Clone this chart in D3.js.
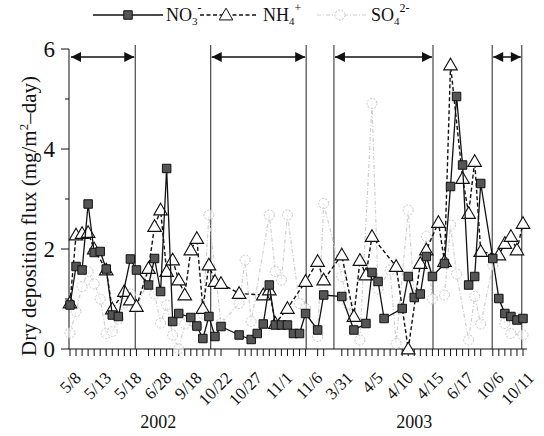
<!DOCTYPE html>
<html>
<head>
<meta charset="utf-8">
<script src="https://cdn.jsdelivr.net/npm/d3@7"></script>
<style>
  body { margin: 0; background: #fff; }
  text { font-family: "Liberation Serif", "Times New Roman", serif; fill: #111; }
</style>
</head>
<body>
<svg id="chart" width="544" height="436"></svg>
<script>
// sample slots along the x axis (one slot per sampling day, gaps left empty)
const slotMax = 75;
const dateLabels = ["5/8", "5/13", "5/18", "6/28", "9/18", "10/22", "10/27", "11/1", "11/6",
                    "3/31", "4/5", "4/10", "4/15", "6/17", "10/6", "10/11"];
const labelSlots = [0, 5, 10, 15, 20, 25, 30, 35, 40, 45, 50, 55, 60, 65, 70, 75];
const years = ["2002", "2003"];
const yearSlots = [14.6, 57];
const campaignEdges = [10.8, 23.3, 39.1, 43.7, 60.1, 69.9, 74.8];
const campaigns = [[0, 10.8], [23.3, 39.1], [43.7, 60.1], [69.9, 74.8]];
const yTicks = [0, 2, 4, 6];
const yMinor = [1, 3, 5];

// [slot, flux]
const no3 = [
  [0, 0.88], [1, 1.65], [2, 1.58], [3, 2.9], [4, 1.93], [5, 1.95], [6, 1.6], [7, 0.68], [8, 0.65], [10, 1.8], [11, 1.58],
  [13, 1.28], [14, 1.81], [15, 1.15], [16, 3.61], [17, 0.55], [18, 0.71], [20, 0.63], [21, 0.46], [22, 0.21],
  [23, 0.65], [24, 0.25], [25, 0.45], [28, 0.28], [30, 0.19], [31, 0.31], [32, 0.5], [33, 1.28], [34, 0.48],
  [35, 0.48], [36, 0.48], [37, 0.31], [38, 0.31], [39, 0.71], [41, 0.38], [42, 1.08],
  [45, 1.05], [47, 0.38], [49, 0.51], [50, 1.53], [51, 1.35], [52, 0.61], [55, 0.81], [56, 1.45], [57, 1.03],
  [58, 1.1], [59, 1.85], [60, 1.45],
  [62, 1.71], [63, 3.25], [64, 5.05], [65, 3.68], [66, 1.28], [67, 1.45], [68, 3.31], [70, 1.81],
  [71, 1.01], [72, 0.71], [73, 0.65], [74, 0.58], [75, 0.61]
];
const nh4 = [
  [0, 0.92], [1, 2.28], [2, 2.31], [3, 2.33], [4, 2.0], [6, 1.58], [7, 0.8], [9, 1.15], [10, 0.98], [11, 0.85],
  [13, 1.61], [14, 2.45], [15, 2.78], [16, 1.55], [17, 1.78], [18, 1.38], [19, 1.08], [20, 1.98], [21, 2.21], [22, 0.81],
  [23, 1.68], [24, 1.35], [25, 1.31], [28, 1.11], [32, 1.08], [33, 1.18], [34, 0.51], [36, 0.81], [39, 1.35],
  [41, 1.75], [42, 1.38],
  [45, 1.88], [47, 0.65], [48, 1.77], [49, 1.48], [50, 2.25], [54, 1.65], [56, 0], [58, 1.71], [59, 1.98], [61, 2.53],
  [62, 1.75], [63, 5.68], [65, 3.41], [66, 2.71], [67, 3.75], [68, 1.95],
  [71, 1.88], [72, 2.11], [73, 2.25], [74, 1.98], [75, 2.51]
];
const so4 = [
  [0, 0.32], [1, 0.75], [2, 1.25], [3, 1.55], [4, 1.3], [5, 1.0], [6, 0.31], [7, 0.35], [8, 0.6], [9, 0.92], [10, 1.1], [11, 0.84],
  [13, 1.38], [14, 1.1], [15, 0.52], [16, 0.88], [17, 0.28], [18, 0.0], [19, 0.5], [21, 0.45], [22, 0.7],
  [23, 2.68], [25, 0.51], [28, 0.91], [29, 1.78], [30, 0.55], [33, 2.68], [34, 1.55], [35, 1.38], [36, 2.68],
  [38, 0.91], [39, 0.81], [41, 0.25], [42, 2.91],
  [45, 1.45], [46, 0.9], [48, 0.18], [50, 4.91], [51, 1.2], [53, 1.58], [54, 0.11], [56, 2.78], [57, 1.05],
  [59, 2.25], [60, 1.0],
  [62, 1.08], [63, 2.48], [64, 1.5], [66, 0.18], [67, 1.05], [68, 0.5], [70, 1.68],
  [72, 0.51], [73, 0.31], [75, 0.28]
];

const svg = d3.select("#chart");
const x = d3.scaleLinear().domain([0, slotMax]).range([70, 523]);
const y = d3.scaleLinear().domain([0, 6]).range([349, 49]);

// axes
const axisG = svg.append("g").attr("stroke", "#111").attr("fill", "none");
axisG.append("line").attr("x1", 69).attr("x2", 69).attr("y1", y(6)).attr("y2", y(0));
axisG.append("line").attr("x1", 69).attr("x2", 527).attr("y1", y(0)).attr("y2", y(0));
axisG.selectAll(".ymaj").data(yTicks).join("line")
  .attr("x1", 61).attr("x2", 69).attr("y1", d => y(d)).attr("y2", d => y(d));
axisG.selectAll(".ymin").data(yMinor).join("line")
  .attr("x1", 65).attr("x2", 69).attr("y1", d => y(d)).attr("y2", d => y(d));

svg.selectAll(".ylab").data(yTicks).join("text")
  .attr("x", 55).attr("y", d => y(d) + 8)
  .attr("text-anchor", "end").style("font-size", "23px").text(d => d);

const tickSlots = Array.from(new Set([...no3, ...nh4, ...so4].map(d => d[0]))).sort((a, b) => a - b);
axisG.selectAll(".xt").data(tickSlots).join("line")
  .attr("x1", d => x(d)).attr("x2", d => x(d)).attr("y1", y(0)).attr("y2", y(0) + 7);

svg.selectAll(".xlab").data(dateLabels).join("text")
  .attr("transform", (d, i) => `translate(${x(labelSlots[i]) + 12},${y(0) + 30}) rotate(-45)`)
  .attr("text-anchor", "end").style("font-size", "17px").text(d => d);

svg.selectAll(".year").data(years).join("text")
  .attr("x", (d, i) => x(yearSlots[i])).attr("y", 428)
  .attr("text-anchor", "middle").style("font-size", "18px").text(d => d);

// y axis title
const yt = svg.append("text")
  .attr("transform", `translate(36,${216}) rotate(-90)`)
  .attr("text-anchor", "middle").style("font-size", "21px");
yt.append("tspan").text("Dry deposition flux (mg/m");
yt.append("tspan").attr("dy", -8).style("font-size", "13px").text("2");
yt.append("tspan").attr("dy", 8).text("\u2013day)");

// campaign separators and arrows
svg.append("defs").append("marker")
  .attr("id", "head").attr("viewBox", "0 0 10 10").attr("refX", 10).attr("refY", 5)
  .attr("markerWidth", 12).attr("markerHeight", 10).attr("markerUnits", "userSpaceOnUse")
  .attr("orient", "auto-start-reverse")
  .append("path").attr("d", "M0,0L10,5L0,10Z").attr("fill", "#111");

svg.selectAll(".edge").data(campaignEdges).join("line")
  .attr("x1", d => x(d)).attr("x2", d => x(d)).attr("y1", 45).attr("y2", y(0))
  .attr("stroke", "#222").attr("stroke-width", 1);

svg.selectAll(".span").data(campaigns).join("line")
  .attr("x1", d => x(d[0]) + 1).attr("x2", d => x(d[1]) - 1).attr("y1", 57).attr("y2", 57)
  .attr("stroke", "#111").attr("stroke-width", 1.5)
  .attr("marker-start", "url(#head)").attr("marker-end", "url(#head)");

// series
const line = d3.line().x(d => x(d[0])).y(d => y(d[1]));
const sq = d3.symbol().type(d3.symbolSquare).size(72);
const tri = d3.symbol().type(d3.symbolTriangle).size(80);

const soG = svg.append("g");
soG.append("path").datum(so4).attr("d", line).attr("fill", "none")
  .attr("stroke", "#cfcfcf").attr("stroke-width", 1.2).attr("stroke-dasharray", "4,2,1,2");
soG.selectAll("circle").data(so4).join("circle")
  .attr("cx", d => x(d[0])).attr("cy", d => y(d[1])).attr("r", 5)
  .attr("fill", "#fff").attr("fill-opacity", 0.6)
  .attr("stroke", "#c4c4c4").attr("stroke-dasharray", "2,1.5");

const nhG = svg.append("g");
nhG.append("path").datum(nh4).attr("d", line).attr("fill", "none")
  .attr("stroke", "#111").attr("stroke-width", 1.4).attr("stroke-dasharray", "4,2.5");
nhG.selectAll("path.m").data(nh4).join("path").attr("class", "m")
  .attr("d", tri).attr("transform", d => `translate(${x(d[0])},${y(d[1]) + 1})`)
  .attr("fill", "#fff").attr("stroke", "#111").attr("stroke-width", 1.1);

const noG = svg.append("g");
noG.append("path").datum(no3).attr("d", line).attr("fill", "none")
  .attr("stroke", "#111").attr("stroke-width", 1.3);
noG.selectAll("path.m").data(no3).join("path").attr("class", "m")
  .attr("d", sq).attr("transform", d => `translate(${x(d[0])},${y(d[1])})`)
  .attr("fill", "#555").attr("stroke", "#111").attr("stroke-width", 1);

// legend
const lg = svg.append("g");
lg.append("line").attr("x1", 93).attr("x2", 163).attr("y1", 15).attr("y2", 15).attr("stroke", "#111").attr("stroke-width", 1.4);
lg.append("path").attr("d", sq).attr("transform", "translate(128,15)").attr("fill", "#555").attr("stroke", "#111");
lg.append("line").attr("x1", 200).attr("x2", 258).attr("y1", 15).attr("y2", 15).attr("stroke", "#111").attr("stroke-width", 1.3).attr("stroke-dasharray", "4,2.5");
lg.append("path").attr("d", tri).attr("transform", "translate(226,16)").attr("fill", "#fff").attr("stroke", "#111");
lg.append("line").attr("x1", 317).attr("x2", 367).attr("y1", 15).attr("y2", 15).attr("stroke", "#cfcfcf").attr("stroke-width", 1.2).attr("stroke-dasharray", "4,2,1,2");
lg.append("circle").attr("cx", 340).attr("cy", 15).attr("r", 5).attr("fill", "#fff").attr("stroke", "#c4c4c4").attr("stroke-dasharray", "2,1.5");

function chem(xp, base, sub, sup) {
  const t = lg.append("text").attr("x", xp).attr("y", 21).style("font-size", "18px");
  t.append("tspan").text(base);
  t.append("tspan").attr("dy", 4).style("font-size", "11px").text(sub);
  t.append("tspan").attr("dy", -13).style("font-size", "12px").text(sup);
}
chem(166, "NO", "3", "-");
chem(263, "NH", "4", "+");
chem(371, "SO", "4", "2-");
</script>
</body>
</html>
